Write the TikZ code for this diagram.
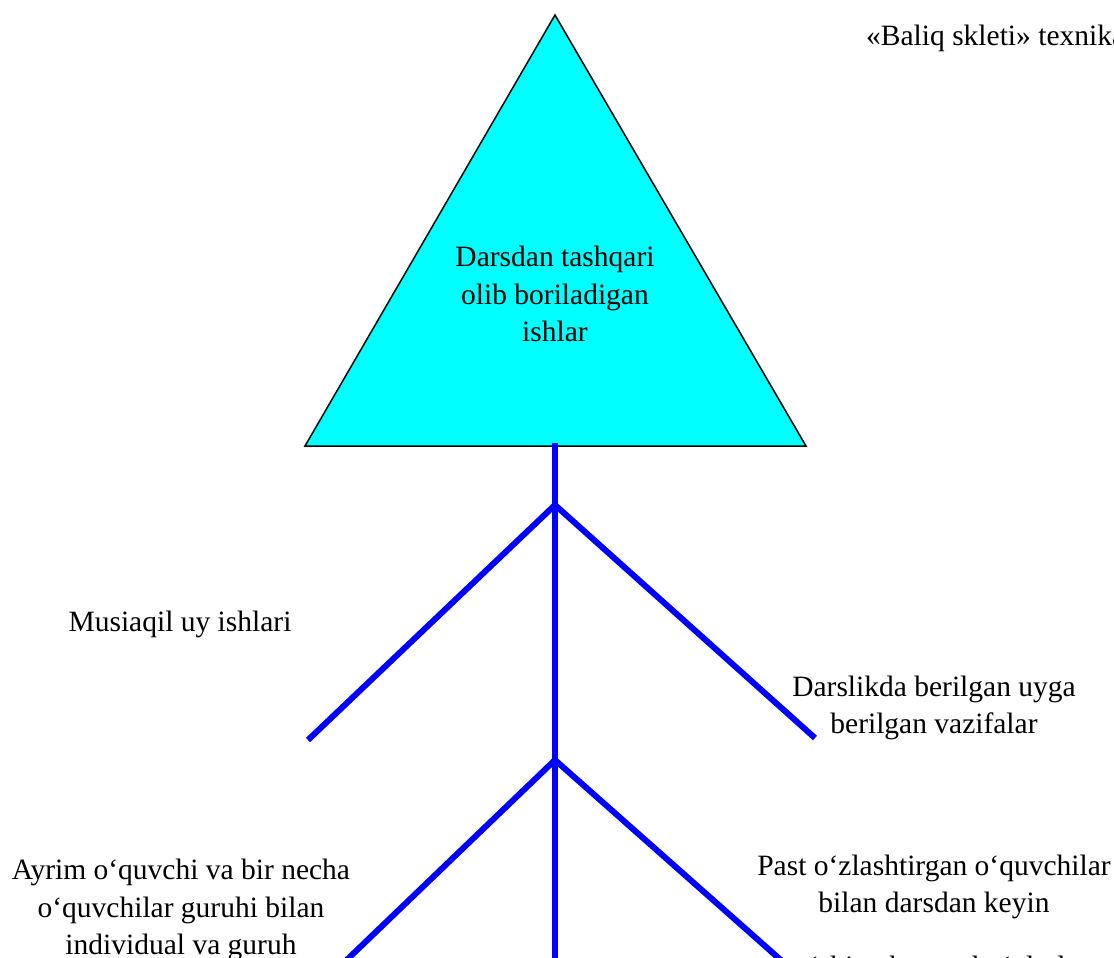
\documentclass[tikz,border=0pt]{standalone}
\usepackage{fontspec}
\setmainfont{Liberation Serif}
\definecolor{headfill}{RGB}{0,255,255}
\definecolor{bonecol}{RGB}{0,0,255}
\tikzset{
  bone/.style={draw=bonecol, line width=6pt, line cap=butt},
  lbl/.style={align=center, inner sep=0pt, font=\fontsize{29.5}{37.5}\selectfont, text=black},
}
\begin{document}
\begin{tikzpicture}[x=1pt,y=-1pt]
\useasboundingbox (0,0) rectangle (1114,958);
\clip (0,0) rectangle (1114,958);
% triangle (head)
\coordinate (apex) at (555,15);
\coordinate (bl) at (305,446);
\coordinate (br) at (806,446);
\filldraw[fill=headfill, draw=black, line width=1.5pt, line join=miter] (apex) -- (bl) -- (br) -- cycle;
\node[lbl] (head) at (555,294) {Darsdan tashqari\\olib boriladigan\\ishlar};
% spine and branches
\coordinate (s0) at (555,443);
\coordinate (s1) at (555,1000);
\coordinate (j1) at (555,505);
\coordinate (j2) at (555,760);
\coordinate (ul) at (308,740);
\coordinate (ur) at (815,738);
\coordinate (ll) at (305,1000);
\coordinate (lr) at (826,1000);
\draw[bone] (s0) -- (s1);
\draw[bone] (j1) -- (ul);
\draw[bone] (j1) -- (ur);
\draw[bone] (j2) -- (ll);
\draw[bone] (j2) -- (lr);
% labels
\node[lbl, anchor=west] (title) at (866,38) {«Baliq skleti» texnikasi};
\node[lbl] (t1) at (180,624) {Musiaqil uy ishlari};
\node[lbl] (t2) at (934,708) {Darslikda berilgan uyga\\berilgan vazifalar};
\node[lbl] (t3) at (181,910) {Ayrim o‘quvchi va bir necha\\o‘quvchilar guruhi bilan\\individual va guruh};
\node[lbl] (t4) at (934,887) {Past o‘zlashtirgan o‘quvchilar\\bilan darsdan keyin};
\node[lbl, anchor=base] (t5) at (934,976) {qo‘shimcha mashg‘ulotlar};
\end{tikzpicture}
\end{document}
